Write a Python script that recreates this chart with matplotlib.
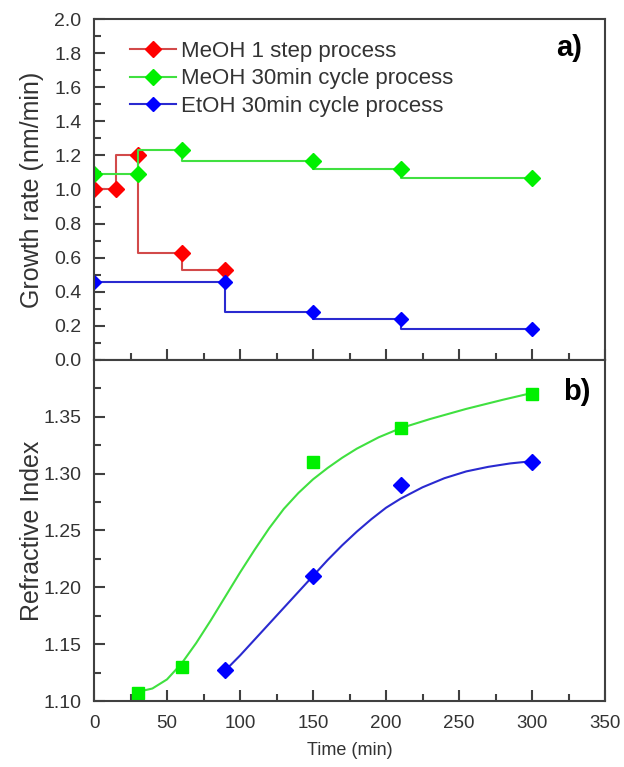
import matplotlib.pyplot as plt
import numpy as np

plt.rcParams['font.family'] = ['Liberation Sans', 'DejaVu Sans']

# panel a) growth rate, step data
meoh_1step_t = [0, 15, 30, 60, 90]
meoh_1step_rate = [1.00, 1.00, 1.20, 0.63, 0.53]
meoh_cycle_t = [0, 30, 60, 150, 210, 300]
meoh_cycle_rate = [1.09, 1.09, 1.23, 1.17, 1.12, 1.07]
etoh_cycle_t = [0, 90, 150, 210, 300]
etoh_cycle_rate = [0.46, 0.46, 0.28, 0.24, 0.18]

# panel b) refractive index, measured points
meoh_ri_t = [30, 60, 150, 210, 300]
meoh_ri = [1.107, 1.13, 1.31, 1.34, 1.37]
etoh_ri_t = [90, 150, 210, 300]
etoh_ri = [1.127, 1.21, 1.29, 1.31]

# fitted curves
meoh_fit_t = [30, 40, 50, 60, 70, 80, 90, 100, 110, 120, 130, 140, 150,
              160, 170, 180, 195, 210, 230, 255, 280, 300]
meoh_fit = [1.108, 1.111, 1.119, 1.133, 1.151, 1.171, 1.192, 1.213, 1.233, 1.252,
            1.269, 1.283, 1.295, 1.305, 1.314, 1.322, 1.332, 1.340, 1.348, 1.357,
            1.365, 1.371]
etoh_fit_t = [90, 100, 110, 120, 130, 140, 150, 160, 170, 180, 190, 200, 210,
              225, 240, 255, 270, 285, 300]
etoh_fit = [1.127, 1.140, 1.154, 1.168, 1.182, 1.196, 1.210, 1.224, 1.237, 1.249,
            1.260, 1.270, 1.278, 1.288, 1.296, 1.302, 1.306, 1.309, 1.311]

red = '#ff0000'
red_line = '#d24a4a'
green = '#00f000'
green_line = '#40e040'
blue = '#0000ff'
blue_line = '#2a2ad0'
spine_col = '#404040'
text_col = '#333333'

fig = plt.figure(figsize=(6.24, 7.67), dpi=100)
ax1 = fig.add_axes([94 / 624, 1 - 360 / 767, 511 / 624, 341 / 767])
ax2 = fig.add_axes([94 / 624, 1 - 701 / 767, 511 / 624, 341 / 767])


def step_series(ax, t, v, line_col, mark_col, ms, label):
    ax.step(t, v, where='pre', color=line_col, lw=1.5)
    ax.plot(t, v, ls='none', marker='D', ms=ms, color=mark_col)
    # proxy for legend
    ax.plot([], [], color=line_col, lw=1.5, marker='D', ms=ms,
            mfc=mark_col, mec=mark_col, label=label)


step_series(ax1, meoh_1step_t, meoh_1step_rate, red_line, red, 8, 'MeOH 1 step process')
step_series(ax1, meoh_cycle_t, meoh_cycle_rate, green_line, green, 8, 'MeOH 30min cycle process')
step_series(ax1, etoh_cycle_t, etoh_cycle_rate, blue_line, blue, 7, 'EtOH 30min cycle process')

ax1.set_xlim(0, 350)
ax1.set_ylim(0, 2.0)
ax1.set_yticks(np.arange(0, 2.01, 0.2))
ax1.set_yticks(np.arange(0, 2.01, 0.1), minor=True)
ax1.set_xticks(np.arange(0, 351, 50))
ax1.set_xticks(np.arange(0, 351, 25), minor=True)
ax1.tick_params(labelbottom=False)
ax1.set_ylabel('Growth rate (nm/min)', fontsize=18, color=text_col)
ax1.legend(loc='upper left', bbox_to_anchor=(0.04, 0.982), frameon=False,
           fontsize=16, handlelength=2.05, handletextpad=0.25, labelspacing=0.3,
           borderpad=0.2, labelcolor=text_col)
ax1.text(0.93, 0.915, 'a)', transform=ax1.transAxes, fontsize=21, fontweight='bold',
         ha='center', va='center', color='black')

# panel b)
ax2.plot(meoh_fit_t, meoh_fit, color=green_line, lw=1.5)
ax2.plot(etoh_fit_t, etoh_fit, color=blue_line, lw=1.5)
ax2.plot(meoh_ri_t, meoh_ri, ls='none', marker='s', ms=8, color=green)
ax2.plot(etoh_ri_t, etoh_ri, ls='none', marker='D', ms=8.5, color=blue)

ax2.set_xlim(0, 350)
ax2.set_ylim(1.10, 1.40)
ax2.set_yticks(np.arange(1.10, 1.36, 0.05))
ax2.set_yticks(np.arange(1.10, 1.401, 0.025), minor=True)
ax2.set_xticks(np.arange(0, 351, 50))
ax2.set_xticks(np.arange(0, 351, 25), minor=True)
ax2.set_ylabel('Refractive Index', fontsize=18, color=text_col)
ax2.set_xlabel('Time (min)', fontsize=13, color=text_col, labelpad=7)
ax2.text(0.945, 0.905, 'b)', transform=ax2.transAxes, fontsize=21, fontweight='bold',
         ha='center', va='center', color='black')

for ax in (ax1, ax2):
    for s in ax.spines.values():
        s.set_color(spine_col)
        s.set_linewidth(1.5)
    ax.tick_params(which='both', direction='in', color=spine_col, width=1.5,
                   labelcolor=text_col)
    ax.tick_params(which='major', length=8)
    ax.tick_params(which='minor', length=5)
    ax.tick_params(axis='y', labelsize=14, pad=9)
    ax.tick_params(axis='x', labelsize=13.5, pad=10)
    ax.yaxis.set_label_coords(-0.097, 0.5)

ax1.yaxis.set_major_formatter(plt.FormatStrFormatter('%.1f'))
ax2.yaxis.set_major_formatter(plt.FormatStrFormatter('%.2f'))

fig.savefig('out.png', dpi=100)
